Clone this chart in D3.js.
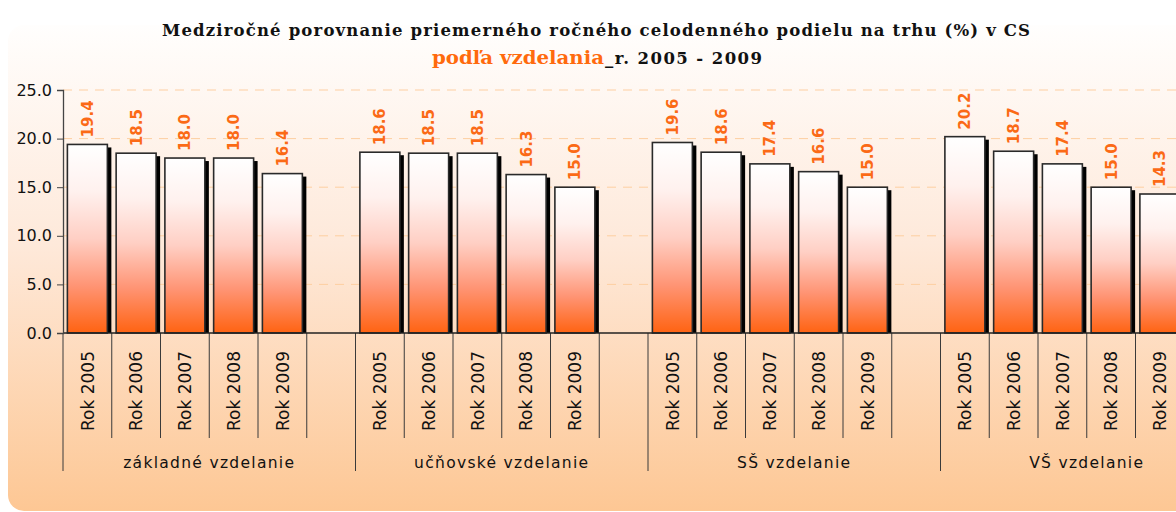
<!DOCTYPE html>
<html>
<head>
<meta charset="utf-8">
<script src="https://cdn.jsdelivr.net/npm/d3@7"></script>
<style>
  html, body { margin: 0; padding: 0; background: #ffffff; }
  svg { display: block; }
</style>
</head>
<body>
<svg id="chart" width="1176" height="512"></svg>
<script>
// ---- data ----
const groups = ["základné vzdelanie", "učňovské vzdelanie", "SŠ vzdelanie", "VŠ vzdelanie"];
const years = ["Rok 2005", "Rok 2006", "Rok 2007", "Rok 2008", "Rok 2009"];
const zakladne = [19.4, 18.5, 18.0, 18.0, 16.4];
const ucnovske = [18.6, 18.5, 18.5, 16.3, 15.0];
const stredne = [19.6, 18.6, 17.4, 16.6, 15.0];
const vysoke = [20.2, 18.7, 17.4, 15.0, 14.3];
const yTicks = [0, 5, 10, 15, 20, 25];
const titleLine1 = "Medziročné porovnanie priemerného ročného celodenného podielu na trhu (%) v CS";
const titleLine2a = "podľa vzdelania";
const titleLine2b = "_r. 2005 - 2009";

const seriesByGroup = [zakladne, ucnovske, stredne, vysoke];

// ---- setup ----
const svg = d3.select("#chart");
const defs = svg.append("defs");

const bg = defs.append("linearGradient").attr("id", "bgGrad")
  .attr("x1", 0).attr("y1", 0).attr("x2", 0).attr("y2", 1);
bg.append("stop").attr("offset", "0%").attr("stop-color", "#fffefd");
bg.append("stop").attr("offset", "45%").attr("stop-color", "#fee9da");
bg.append("stop").attr("offset", "100%").attr("stop-color", "#fdc794");

const barGrad = defs.append("linearGradient").attr("id", "barGrad")
  .attr("x1", 0).attr("y1", 0).attr("x2", 0).attr("y2", 1);
barGrad.append("stop").attr("offset", "0%").attr("stop-color", "#ffffff");
barGrad.append("stop").attr("offset", "25%").attr("stop-color", "#fff1ee");
barGrad.append("stop").attr("offset", "50%").attr("stop-color", "#ffcfc4");
barGrad.append("stop").attr("offset", "75%").attr("stop-color", "#ff9474");
barGrad.append("stop").attr("offset", "100%").attr("stop-color", "#ff6312");

// background panel
svg.append("rect")
  .attr("x", 8).attr("y", 25).attr("width", 1200).attr("height", 486)
  .attr("rx", 16).attr("ry", 16)
  .attr("fill", "url(#bgGrad)");

// ---- scales ----
const y = d3.scaleLinear().domain([0, 25]).range([333, 90]);
const xGroup = d3.scaleBand().domain(groups).range([63, 63 + 4 * 292.5]).padding(0);
const slots = years.concat(["__blank__"]);
const xSlot = d3.scaleBand().domain(slots).range([0, xGroup.bandwidth()])
  .paddingInner(0.18).paddingOuter(0.09);
const xSlotCell = d3.scaleBand().domain(slots).range([0, xGroup.bandwidth()]).padding(0);

const fontSans = "'DejaVu Sans', Verdana, sans-serif";
const fontSerif = "'DejaVu Serif', Georgia, serif";

// gridlines
svg.append("g")
  .selectAll("line")
  .data(yTicks.filter(d => d > 0))
  .join("line")
  .attr("x1", 63).attr("x2", 1176)
  .attr("y1", d => y(d)).attr("y2", d => y(d))
  .attr("stroke", "#fdcfa2").attr("stroke-width", 1)
  .attr("stroke-dasharray", "9,7");

// bars
const gBars = svg.append("g");
groups.forEach((g, gi) => {
  const vals = seriesByGroup[gi];
  const gg = gBars.append("g").attr("transform", `translate(${xGroup(g)},0)`);
  // shadows
  gg.selectAll("rect.shadow")
    .data(vals)
    .join("rect")
    .attr("class", "shadow")
    .attr("x", (d, i) => xSlot(years[i]) + 4)
    .attr("y", d => y(d) + 3)
    .attr("width", xSlot.bandwidth())
    .attr("height", d => y(0) - y(d) - 3)
    .attr("fill", "#000");
  // bars
  gg.selectAll("rect.bar")
    .data(vals)
    .join("rect")
    .attr("class", "bar")
    .attr("x", (d, i) => xSlot(years[i]))
    .attr("y", d => y(d))
    .attr("width", xSlot.bandwidth())
    .attr("height", d => y(0) - y(d))
    .attr("fill", "url(#barGrad)")
    .attr("stroke", "#2a2a2a").attr("stroke-width", 1.6);
  // value labels
  gg.selectAll("text.val")
    .data(vals)
    .join("text")
    .attr("class", "val")
    .attr("transform", (d, i) => `translate(${xSlot(years[i]) + xSlot.bandwidth() / 2},${y(d) - 7}) rotate(-90)`)
    .attr("text-anchor", "start")
    .attr("dy", "0.36em")
    .attr("font-family", fontSans)
    .attr("font-weight", "bold")
    .attr("font-size", 15)
    .attr("fill", "#fb6a16")
    .text(d => d3.format(".1f")(d));
  // short ticks at year boundaries
  gg.selectAll("line.ytick")
    .data(years)
    .join("line")
    .attr("class", "ytick")
    .attr("x1", d => xSlotCell(d) + xSlotCell.bandwidth())
    .attr("x2", d => xSlotCell(d) + xSlotCell.bandwidth())
    .attr("y1", 333).attr("y2", 438)
    .attr("stroke", "#3a3a3a").attr("stroke-width", 1);
  // year labels
  gg.selectAll("text.year")
    .data(years)
    .join("text")
    .attr("class", "year")
    .attr("transform", d => `translate(${xSlotCell(d) + xSlotCell.bandwidth() / 2},431) rotate(-90)`)
    .attr("text-anchor", "start")
    .attr("dy", "0.36em")
    .attr("font-family", fontSans)
    .attr("font-size", 17)
    .attr("fill", "#111")
    .text(d => d);
  // group label
  gg.append("text")
    .attr("x", xGroup.bandwidth() / 2)
    .attr("y", 468)
    .attr("text-anchor", "middle")
    .attr("font-family", fontSans)
    .attr("font-size", 15.5)
    .attr("letter-spacing", 1.3)
    .attr("fill", "#111")
    .text(g);
});

// long group boundary ticks
svg.append("g")
  .selectAll("line")
  .data(groups)
  .join("line")
  .attr("x1", d => xGroup(d)).attr("x2", d => xGroup(d))
  .attr("y1", 333).attr("y2", 471)
  .attr("stroke", "#3a3a3a").attr("stroke-width", 1);

// x axis line
svg.append("line")
  .attr("x1", 63).attr("x2", 1176).attr("y1", 333).attr("y2", 333)
  .attr("stroke", "#222").attr("stroke-width", 1.3);

// y axis
const yAxis = svg.append("g")
  .attr("transform", "translate(63,0)")
  .call(d3.axisLeft(y).tickValues(yTicks).tickFormat(d3.format(".1f")).tickSize(6).tickPadding(5));
yAxis.select(".domain").attr("stroke", "#444").attr("stroke-width", 1.3);
yAxis.selectAll(".tick line").attr("stroke", "#444");
yAxis.selectAll(".tick text")
  .attr("font-family", fontSans).attr("font-size", 16).attr("fill", "#111");

// title
svg.append("text")
  .attr("x", 596).attr("y", 36)
  .attr("text-anchor", "middle")
  .attr("font-family", fontSerif).attr("font-weight", "bold").attr("font-size", 16.5)
  .attr("fill", "#111")
  .attr("textLength", 868).attr("lengthAdjust", "spacing")
  .text(titleLine1);
svg.append("text")
  .attr("x", 432).attr("y", 64)
  .attr("font-family", fontSerif).attr("font-weight", "bold").attr("font-size", 19)
  .attr("fill", "#ff6a0d")
  .attr("textLength", 172).attr("lengthAdjust", "spacingAndGlyphs")
  .text(titleLine2a);
svg.append("text")
  .attr("x", 605).attr("y", 64)
  .attr("font-family", fontSerif).attr("font-weight", "bold").attr("font-size", 16.5)
  .attr("fill", "#111")
  .attr("textLength", 157).attr("lengthAdjust", "spacing")
  .text(titleLine2b);
</script>
</body>
</html>
